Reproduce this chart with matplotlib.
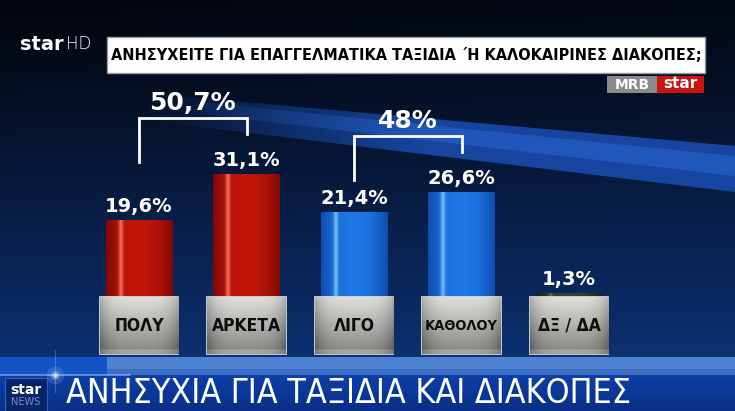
import matplotlib.pyplot as plt
import numpy as np
from matplotlib.colors import to_rgb
from matplotlib.patches import Polygon, Rectangle

# poll answers
categories = ["ΠΟΛΥ", "ΑΡΚΕΤΑ", "ΛΙΓΟ", "ΚΑΘΟΛΟΥ", "ΔΞ / ΔΑ"]
values = [19.6, 31.1, 21.4, 26.6, 1.3]
bar_kind = ["red", "red", "blue", "blue", "gray"]
groups = [(0, 1), (2, 3)]  # pairs joined by a bracket with their sum

title = "ΑΝΗΣΥΧΕΙΤΕ ΓΙΑ ΕΠΑΓΓΕΛΜΑΤΙΚΑ ΤΑΞΙΔΙΑ ΄Η ΚΑΛΟΚΑΙΡΙΝΕΣ ΔΙΑΚΟΠΕΣ;"
ticker = "ΑΝΗΣΥΧΙΑ ΓΙΑ ΤΑΞΙΔΙΑ ΚΑΙ ΔΙΑΚΟΠΕΣ"

W, H = 735, 411
NARROW = dict(family="DejaVu Sans", fontstretch="condensed")

# (mid, edge, highlight) colours for the bar shading
palette = {
    "red": ("#c3160a", "#7e0a04", "#ff7a60"),
    "blue": ("#1f78e6", "#0f4eb0", "#7cc8ff"),
    "gray": ("#3a3f38", "#1c201b", "#6a6e66"),
}


def pct(v):
    s = f"{v:.1f}".replace(".", ",")
    if s.endswith(",0"):
        s = s[:-2]
    return s + "%"


def fit_width(txt, width_px):
    r = fig.canvas.get_renderer()
    w = txt.get_window_extent(r).width
    txt.set_fontsize(txt.get_fontsize() * width_px / w)


fig = plt.figure(figsize=(7.35, 4.11), dpi=100)

# ---- background (pixel coordinates) ----
bg = fig.add_axes([0, 0, 1, 1])
bg.set_xlim(0, W)
bg.set_ylim(H, 0)
bg.axis("off")

ny, nx = 60, 80
t = np.linspace(0, 1, ny)[:, None, None]
s = np.linspace(0, 1, nx)[None, :, None]
top_c = np.array(to_rgb("#02050c"))
bot_c = np.array(to_rgb("#0e3780"))
grad = top_c * (1 - t**1.1) + bot_c * t**1.1
grad = grad + 0.03 * s * (1 - t) * np.array([0.1, 0.4, 1.0])
bg.imshow(np.clip(grad, 0, 1), extent=[0, W, H, 0], aspect="auto",
          interpolation="bicubic", zorder=0)

# light streak behind the bars
sx = np.linspace(0, 1, 100)
for pts, col, amax in [
    ([(110, 90), (735, 146), (735, 192), (110, 116)], "#1d55c4", 0.75),
    ([(200, 102), (735, 156), (735, 176), (200, 114)], "#2f6ddc", 0.45),
]:
    poly = Polygon(pts, closed=True, fc="none", ec="none")
    bg.add_patch(poly)
    band = np.zeros((8, 100, 4))
    band[..., :3] = to_rgb(col)
    band[..., 3] = np.clip((sx - 0.05) / 0.45, 0, 1) * amax
    im = bg.imshow(band, extent=[110, 735, 200, 85], aspect="auto",
                   interpolation="bilinear", zorder=1)
    im.set_clip_path(poly)

# bottom bands
bg.add_patch(Rectangle((0, 357), 107, 18, fc="#1552c6", ec="none", zorder=1))
bg.add_patch(Rectangle((107, 357), W - 107, 18, fc="#4d82d2", ec="none", zorder=1))
bg.add_patch(Rectangle((107, 369), W - 107, 6, fc="#3c6fc4", ec="none", zorder=1))
strip = np.linspace(0, 1, 20)[:, None, None]
strip_img = (np.array(to_rgb("#0c3fa8")) * (1 - strip)
             + np.array(to_rgb("#0a2f86")) * strip) * np.ones((1, 2, 3))
bg.imshow(strip_img, extent=[0, W, H, 375], aspect="auto", zorder=1)
bg.add_patch(Rectangle((5, 378), 42, 34, fc="#0b2466", ec="#2f5fc8", lw=0.8, zorder=2))
bg.text(26, 390, "star", color="white", fontsize=10, weight="bold",
        ha="center", va="center", zorder=3)
bg.text(26, 402, "NEWS", color="#6d8fd8", fontsize=7,
        ha="center", va="center", zorder=3)
tick_txt = bg.text(66, 410, ticker, color="white", fontsize=30,
                   ha="left", va="bottom", zorder=3, **NARROW)

# lens flare on the left
bg.plot([0, 130], [375, 375], color="#a8d0ff", lw=1.2, alpha=0.6, zorder=2)
bg.plot([55, 55], [350, 392], color="#a8d0ff", lw=0.8, alpha=0.3, zorder=2)
for size, a in [(160, 0.15), (40, 0.35), (8, 0.9)]:
    bg.scatter([55], [375], s=size, color="#d8ecff", alpha=a, lw=0, zorder=2)

# channel logo
bg.text(20, 44, "star", color="white", fontsize=14, weight="bold",
        ha="left", va="center", zorder=3)
bg.text(66, 44, "HD", color="white", fontsize=12, family="DejaVu Sans",
        weight="light", ha="left", va="center", zorder=3)

# question box
bg.add_patch(Rectangle((107, 37), 598, 36, fc="white", ec="#9a9a9a", lw=1, zorder=3))
ttl = bg.text(406, 56, title, color="black", fontsize=16, weight="bold",
              ha="center", va="center", zorder=4, **NARROW)
bg.add_patch(Rectangle((607, 76), 50, 17, fc="#8a8a8a", ec="none", zorder=3))
bg.text(632, 85, "MRB", color="white", fontsize=10, weight="bold",
        ha="center", va="center", zorder=4)
bg.add_patch(Rectangle((657, 76), 47, 17, fc="#cc1212", ec="none", zorder=3))
bg.text(680, 84, "star", color="white", fontsize=11, weight="bold",
        ha="center", va="center", zorder=4)

# ---- bar chart (data coordinates, 4 px per percent) ----
ax = fig.add_axes([85.25 / W, (H - 356) / H, 537.5 / W, 266 / H])
ax.patch.set_alpha(0)
x = np.arange(len(values))
bar_w = 0.614
bars = ax.bar(x, values, width=bar_w,
              color=[palette[k][0] for k in bar_kind], zorder=2)

sw = np.linspace(0, 1, 80)
for rect, v, k in zip(bars, values, bar_kind):
    mid, edge, hi = (np.array(to_rgb(c)) for c in palette[k])
    e = (np.abs(sw - 0.5) * 2) ** 2
    cols = (1 - e)[:, None] * mid + e[:, None] * edge
    h = np.exp(-((sw - 0.22) / 0.035) ** 2)[:, None] * 0.85
    cols = cols * (1 - h) + hi * h
    img = np.tile(cols[None], (2, 1, 1))
    x0 = rect.get_x()
    im = ax.imshow(img, extent=[x0, x0 + bar_w, 0, v], aspect="auto",
                   interpolation="bilinear", zorder=2.1)
    im.set_clip_path(rect)
    ax.text(rect.get_x() + bar_w / 2, v + 2, pct(v), color="white",
            fontsize=14, weight="bold", ha="center", va="baseline", zorder=5)

# grey label boxes under the bars
box_w = 0.726
by, bxn = 40, 60
tt = np.linspace(0, 1, by)[:, None]
ss = np.linspace(0, 1, bxn)[None, :]
shade = 0.88 - 0.36 * tt - 0.18 * (np.abs(ss - 0.5) * 2) ** 4
shade[-3:, :] += 0.12
box_img = np.clip(np.dstack([shade, shade, shade * 0.98]), 0, 1)
r = fig.canvas.get_renderer()
for xi, cat in zip(x, categories):
    box = Rectangle((xi - box_w / 2, -14), box_w, 14.3, fc="#b0b0b0",
                    ec="#e6e6e6", lw=1.2, zorder=3)
    ax.add_patch(box)
    im = ax.imshow(box_img, extent=[xi - box_w / 2, xi + box_w / 2, -14, 0.3],
                   aspect="auto", interpolation="bilinear", zorder=3.1)
    im.set_clip_path(box)
    lab = ax.text(xi, -6.9, cat, color="#0c0c0c", fontsize=12.5,
                  weight="bold", ha="center", va="center", zorder=4, **NARROW)
    wpx = lab.get_window_extent(r).width
    if wpx > 73:
        lab.set_fontsize(12.5 * 73 / wpx)

# brackets with group totals
for a, b in groups:
    top = max(values[a], values[b]) + 14
    ends = [top - (11 if values[i] < max(values[a], values[b]) else 4) for i in (a, b)]
    ax.plot([a, a, b, b], [ends[0], top, top, ends[1]], color="white",
            lw=2, solid_joinstyle="miter", zorder=5)
    ax.text((a + b) / 2, top + 2, pct(values[a] + values[b]), color="white",
            fontsize=18, weight="bold", ha="center", va="baseline", zorder=5)

ax.set_xlim(-0.5, len(values) - 0.5)
ax.set_ylim(-14.5, 52)
ax.axis("off")

# squeeze the long texts into their space
fit_width(ttl, 592)
fit_width(tick_txt, 650)
# keep the ticker inside the frame
ext = tick_txt.get_window_extent(r)
if ext.height > 33:
    tick_txt.set_fontsize(tick_txt.get_fontsize() * 33 / ext.height)

fig.savefig("out.png", dpi=100)
